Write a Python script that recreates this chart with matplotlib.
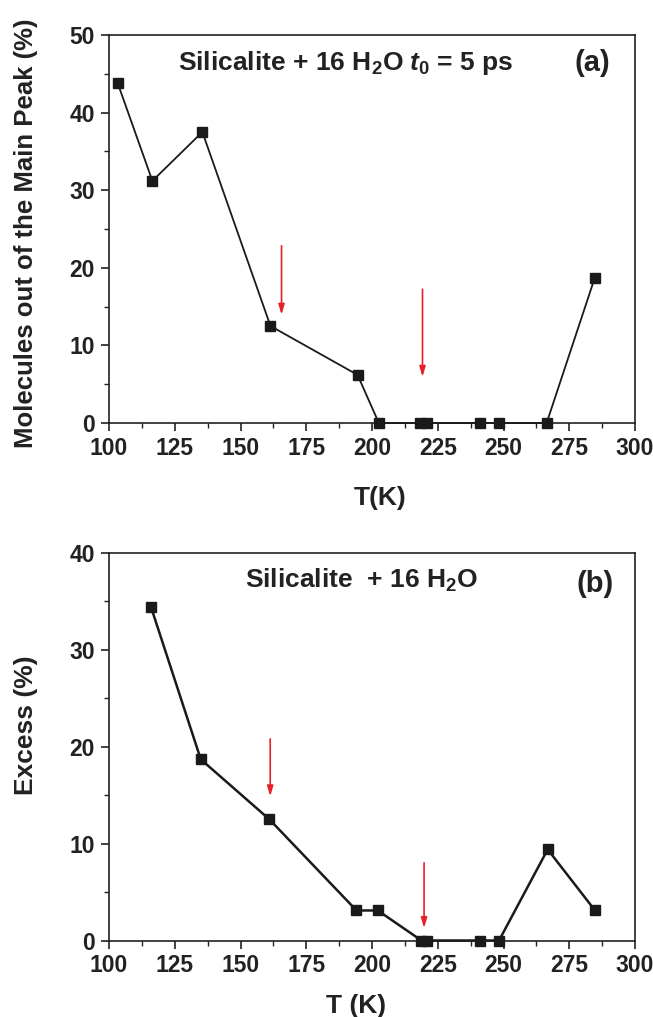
import matplotlib
matplotlib.use("Agg")
import matplotlib.pyplot as plt
from matplotlib.ticker import MultipleLocator

plt.rcParams['font.family'] = ['Liberation Sans', 'DejaVu Sans']
plt.rcParams['font.weight'] = 'bold'
plt.rcParams['mathtext.fontset'] = 'custom'
plt.rcParams['mathtext.rm'] = 'Liberation Sans:bold'
plt.rcParams['mathtext.bf'] = 'Liberation Sans:bold'
plt.rcParams['mathtext.it'] = 'Liberation Sans:bold:italic'

# panel (a): molecules out of the main peak
temp_a = [103.3, 116.5, 135.5, 161.4, 194.5, 202.6, 218.2, 221.0, 241.2, 248.2, 266.4, 284.7]
peak_a = [43.8, 31.2, 37.5, 12.5, 6.2, 0, 0, 0, 0, 0, 0, 18.7]
arrows_a = [(165.6, 23.2, 13.6), (219.2, 17.6, 5.6)]

# panel (b): excess
temp_b = [116.0, 134.9, 161.0, 194.1, 202.2, 218.8, 221.1, 241.2, 248.3, 266.8, 284.8]
excess_b = [34.4, 18.7, 12.5, 3.1, 3.1, 0, 0, 0, 0, 9.4, 3.1]
arrows_b = [(161.3, 21.1, 14.6), (219.8, 8.3, 1.0)]

W, H = 653, 1017
fig = plt.figure(figsize=(W / 100, H / 100), dpi=100)
ax1 = fig.add_axes([109 / W, 1 - 423 / H, 526 / W, 388 / H])
ax2 = fig.add_axes([109 / W, 1 - 940.5 / H, 526 / W, 387.5 / H])

ink = '#222222'


def style(ax, ymax, ystep):
    ax.set_xlim(100, 300)
    ax.set_ylim(0, ymax)
    ax.xaxis.set_major_locator(MultipleLocator(25))
    ax.xaxis.set_minor_locator(MultipleLocator(12.5))
    ax.yaxis.set_major_locator(MultipleLocator(ystep))
    ax.yaxis.set_minor_locator(MultipleLocator(ystep / 2))
    ax.tick_params(which='major', direction='out', length=6, width=1.2, pad=4,
                   labelsize=16.5, top=False, right=False, colors=ink)
    ax.tick_params(which='minor', direction='out', length=3.5, width=1.0,
                   top=False, right=False, colors=ink)
    for lab in ax.get_xticklabels() + ax.get_yticklabels():
        lab.set_fontweight('bold')
    for s in ax.spines.values():
        s.set_linewidth(1.2)
        s.set_color(ink)


def draw_arrows(ax, arrows):
    for x, y0, y1 in arrows:
        ax.annotate('', xy=(x, y1), xytext=(x, y0),
                    arrowprops=dict(arrowstyle='-|>,head_length=0.6,head_width=0.18',
                                    color='#e8202a', lw=1.2))


ax1.plot(temp_a, peak_a, '-s', color='#1a1a1a', lw=1.3, ms=7, clip_on=False, zorder=3)
style(ax1, 50, 10)
draw_arrows(ax1, arrows_a)
ax1.text(0.45, 0.928, r'Silicalite + 16 H$_2$O $\it{t}_{\it{0}}$ = 5 ps',
         transform=ax1.transAxes, ha='center', va='center', fontsize=19, fontweight='bold',
         color=ink)
ax1.text(0.919, 0.928, '(a)', transform=ax1.transAxes, ha='center', va='center',
         fontsize=21, fontweight='bold', color=ink)
ax1.set_xlabel('T(K)', fontsize=19, fontweight='bold', color=ink)
ax1.xaxis.set_label_coords(0.515, -0.163)
ax1.set_ylabel('Molecules out of the Main Peak (%)', fontsize=18.5, fontweight='bold', color=ink)
ax1.yaxis.set_label_coords(-0.135, 0.49)

ax2.plot(temp_b, excess_b, '-s', color='#1a1a1a', lw=1.8, ms=7, clip_on=False, zorder=3)
style(ax2, 40, 10)
draw_arrows(ax2, arrows_b)
ax2.text(0.479, 0.93, r'Silicalite  + 16 H$_2$O',
         transform=ax2.transAxes, ha='center', va='center', fontsize=19, fontweight='bold',
         color=ink)
ax2.text(0.924, 0.92, '(b)', transform=ax2.transAxes, ha='center', va='center',
         fontsize=21, fontweight='bold', color=ink)
ax2.set_xlabel('T (K)', fontsize=19, fontweight='bold', color=ink)
ax2.xaxis.set_label_coords(0.47, -0.138)
ax2.set_ylabel('Excess (%)', fontsize=19, fontweight='bold', color=ink)
ax2.yaxis.set_label_coords(-0.135, 0.556)

fig.savefig('out.png', dpi=100)
